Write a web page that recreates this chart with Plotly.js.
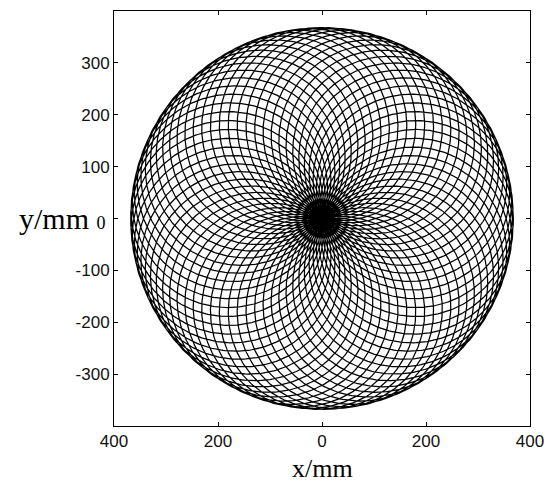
<!DOCTYPE html>
<html>
<head>
<meta charset="utf-8">
<script src="https://cdn.plot.ly/plotly-3.0.1.min.js"></script>
<style>
  html, body { margin: 0; padding: 0; background: #fff; }
  #chart { width: 548px; height: 484px; }
</style>
</head>
<body>
<div id="chart"></div>
<script>
// Curve parameters (mm)
const loopRadius = [184.5];   // radius of each circular loop
const orbitRadius = [183.5];  // radius of the circle the loop centres travel on
const loopCount = [66];       // number of loops (passes near the centre)
const samplesPerLoop = [320];

// Axis ticks
const xTickVals = [-400, -200, 0, 200, 400];
const xTickText = ['400', '200', '0', '200', '400'];
const yTickVals = [-300, -200, -100, 0, 100, 200, 300];
const yTickText = ['-300', '-200', '-100', '', '100', '200', '300'];
const axisRange = [-400, 400];

// Build the scan curve (epitrochoid) from its parameters
const A = loopRadius[0], B = orbitRadius[0], N = loopCount[0] + 1;
const total = loopCount[0] * samplesPerLoop[0];
const xs = [], ys = [];
for (let i = 0; i <= total; i++) {
  const t = 2 * Math.PI * i / total;
  xs.push(B * Math.cos(t) + A * Math.cos(N * t));
  ys.push(B * Math.sin(t) + A * Math.sin(N * t));
}

const trace = {
  type: 'scatter', mode: 'lines', x: xs, y: ys,
  line: { color: '#000', width: 1.25 },
  hoverinfo: 'skip', showlegend: false
};

const axisCommon = {
  range: axisRange, showgrid: false, zeroline: false,
  showline: true, linecolor: '#000', linewidth: 1, mirror: 'ticks',
  ticks: 'inside', ticklen: 4, tickcolor: '#000', tickwidth: 1,
  tickmode: 'array',
  tickfont: { family: 'Liberation Sans, Arial, sans-serif', size: 17, color: '#111' }
};

const layout = {
  width: 548, height: 484,
  margin: { l: 114, r: 18, t: 11, b: 58 },
  paper_bgcolor: '#fff', plot_bgcolor: '#fff',
  xaxis: Object.assign({}, axisCommon, { tickvals: xTickVals, ticktext: xTickText }),
  yaxis: Object.assign({}, axisCommon, { tickvals: yTickVals, ticktext: yTickText }),
  annotations: [
    { text: 'x/mm', xref: 'paper', yref: 'paper', x: 0.5, y: 0, xanchor: 'center', yanchor: 'bottom',
      yshift: -58, showarrow: false, borderpad: 0,
      font: { family: 'Liberation Serif, Times New Roman, serif', size: 26, color: '#000' } },
    { text: 'y/mm <span style="font-size:18px">0</span>', xref: 'paper', yref: 'y', x: 0, y: 0,
      xanchor: 'right', yanchor: 'middle', xshift: -6, showarrow: false,
      font: { family: 'Liberation Serif, Times New Roman, serif', size: 30, color: '#000' } }
  ]
};

Plotly.newPlot('chart', [trace], layout, { staticPlot: true, displayModeBar: false });
</script>
</body>
</html>
